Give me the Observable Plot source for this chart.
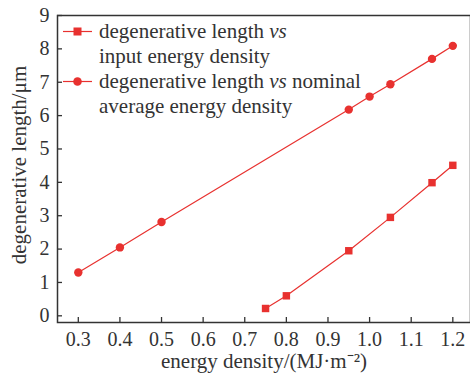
<!DOCTYPE html>
<html><head><meta charset="utf-8">
<script src="https://cdn.jsdelivr.net/npm/d3@7"></script>
<script src="https://cdn.jsdelivr.net/npm/@observablehq/plot@0.6"></script>
<style>
body{margin:0;background:#fff;}
#wrap{position:relative;width:470px;height:376px;font-family:"Liberation Serif","Times New Roman",serif;color:#333;}
#legend{position:absolute;left:63px;top:19px;font-size:21px;line-height:25px;}
.row{display:flex;align-items:center;height:25px;}
.row svg{flex:none;margin-right:7px;}
.indent{padding-left:36px;height:25px;}
</style></head>
<body><div id="wrap"></div>
<script>
const squareX = [0.75, 0.8, 0.95, 1.05, 1.15, 1.2];
const squareY = [0.22, 0.6, 1.95, 2.95, 3.99, 4.51];
const circleX = [0.3, 0.4, 0.5, 0.95, 1.0, 1.05, 1.15, 1.2];
const circleY = [1.3, 2.05, 2.81, 6.18, 6.57, 6.94, 7.7, 8.09];
const xTicks = [0.3, 0.4, 0.5, 0.6, 0.7, 0.8, 0.9, 1.0, 1.1, 1.2];
const yTicks = [0, 1, 2, 3, 4, 5, 6, 7, 8, 9];
const xLabel = "energy density/(MJ·m⁻²)";
const yLabel = "degenerative length/μm";

const red = "#e8312f";
const ink = "#333";
const squares = squareX.map((x, i) => ({x, y: squareY[i]}));
const circles = circleX.map((x, i) => ({x, y: circleY[i]}));

const W = 470, H = 376, mT = 15, mB = 54, mL = 57, mR = 0;
const chart = Plot.plot({
  width: W, height: H, marginTop: mT, marginBottom: mB, marginLeft: mL, marginRight: mR,
  style: {fontFamily: '"Liberation Serif","Times New Roman",serif', fontSize: "20px", color: ink, background: "#fff", overflow: "visible"},
  x: {domain: [0.25, 1.2425]},
  y: {domain: [-0.2, 9]},
  marks: [
    Plot.frame({stroke: ink, strokeWidth: 1.5}),
    Plot.axisX(xTicks, {tickSize: 0, tickPadding: 9, tickFormat: d => d.toFixed(1), label: null, fontSize: 20}),
    Plot.axisY(yTicks, {tickSize: 0, tickPadding: 8, label: null, fontSize: 20}),
    Plot.tickX(xTicks, {x: d => d, insetTop: H - mT - mB - 5, stroke: ink, strokeWidth: 1.3}),
    Plot.tickY(yTicks, {y: d => d, insetRight: W - mL - mR - 5, stroke: ink, strokeWidth: 1.3}),
    Plot.line(circles, {x: "x", y: "y", stroke: red, strokeWidth: 1.2}),
    Plot.line(squares, {x: "x", y: "y", stroke: red, strokeWidth: 1.2}),
    Plot.dot(circles, {x: "x", y: "y", r: 4.2, fill: red, symbol: "circle"}),
    Plot.dot(squares, {x: "x", y: "y", r: 4.2, fill: red, symbol: "square"}),
    Plot.text([xLabel], {frameAnchor: "bottom", textAnchor: "middle", dy: 45, fontSize: 21, fill: ink}),
    Plot.text([yLabel], {frameAnchor: "left", textAnchor: "middle", rotate: -90, dx: -38, dy: -4, fontSize: 21, fill: ink})
  ]
});
const wrap = document.getElementById("wrap");
wrap.appendChild(chart);

const leg = document.createElement("div");
leg.id = "legend";
function marker(kind) {
  const s = kind === "square"
    ? `<rect x="10.5" y="4.5" width="8" height="8" fill="${red}"/>`
    : `<circle cx="14.5" cy="8.5" r="4.3" fill="${red}"/>`;
  return `<svg width="29" height="17"><line x1="0" x2="29" y1="8.5" y2="8.5" stroke="${red}" stroke-width="1.2"/>${s}</svg>`;
}
leg.innerHTML =
  `<div class="row">${marker("square")}<span>degenerative length <i>vs</i></span></div>` +
  `<div class="indent">input energy density</div>` +
  `<div class="row">${marker("circle")}<span>degenerative length <i>vs</i> nominal</span></div>` +
  `<div class="indent">average energy density</div>`;
wrap.appendChild(leg);
</script></body></html>
